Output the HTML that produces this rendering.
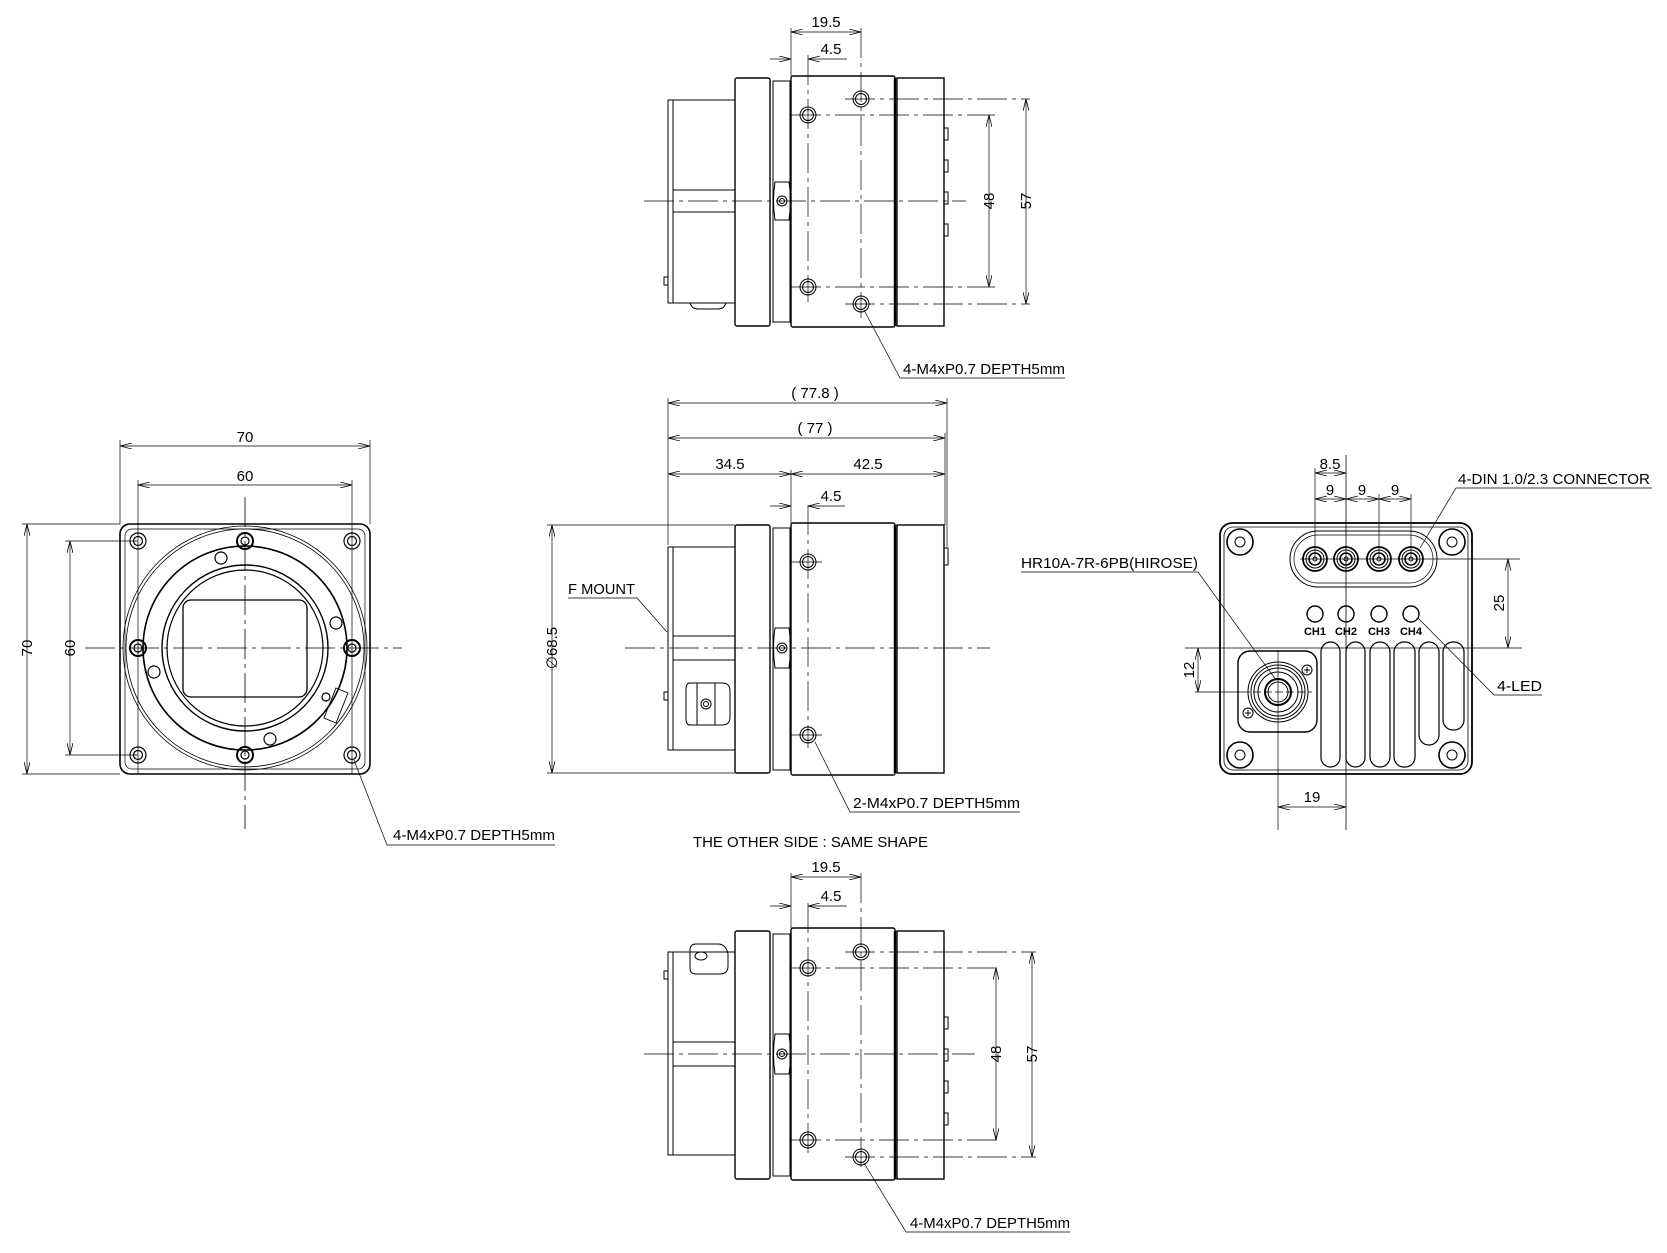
<!DOCTYPE html>
<html><head><meta charset="utf-8"><style>
html,body{margin:0;padding:0;background:#fff}
svg{display:block}
text{font-family:"Liberation Sans",sans-serif;fill:#000}
</style></head><body>
<svg width="1667" height="1253" viewBox="0 0 1667 1253" xmlns="http://www.w3.org/2000/svg">
<defs>
<marker id="a" viewBox="0 0 12 6" refX="12" refY="3" markerWidth="12" markerHeight="6" markerUnits="userSpaceOnUse" orient="auto-start-reverse"><path d="M0,0 L12,3 L0,6" fill="none" stroke="#000" stroke-width="0.8"/></marker>
</defs>
<g fill="none" stroke="#000" stroke-width="1">

<!-- ================= FRONT VIEW ================= -->
<rect x="120" y="524" width="250" height="250" rx="10" stroke-width="1.6"/>
<rect x="125" y="529" width="240" height="240" rx="7" stroke-width="0.7"/>
<circle cx="245" cy="648" r="122" stroke-width="0.8"/>
<circle cx="245" cy="648" r="119" stroke-width="0.8"/>
<circle cx="245" cy="648" r="102" stroke-width="1.6"/>
<circle cx="245" cy="648" r="83" stroke-width="1.4"/>
<circle cx="245" cy="648" r="78" stroke-width="1.2"/>
<rect x="183" y="600" width="124" height="97" rx="8" stroke-width="1.3"/>
<g stroke-width="1.2">
<circle cx="138" cy="541" r="8"/><circle cx="138" cy="541" r="4.5"/>
<circle cx="352" cy="541" r="8"/><circle cx="352" cy="541" r="4.5"/>
<circle cx="138" cy="755" r="8"/><circle cx="138" cy="755" r="4.5"/>
<circle cx="352" cy="755" r="8"/><circle cx="352" cy="755" r="4.5"/>
<circle cx="245" cy="541" r="8" stroke-width="2"/><circle cx="245" cy="541" r="4"/>
<circle cx="245" cy="755" r="8" stroke-width="2"/><circle cx="245" cy="755" r="4"/>
<circle cx="138" cy="648" r="8" stroke-width="2"/><circle cx="138" cy="648" r="4"/>
<circle cx="352" cy="648" r="8" stroke-width="2"/><circle cx="352" cy="648" r="4"/>
<circle cx="221" cy="558" r="6"/><circle cx="336" cy="623" r="6"/><circle cx="154" cy="672" r="6"/><circle cx="270" cy="739" r="6"/>
<circle cx="326" cy="697" r="4"/>
</g>
<path d="M336,688 l12,5 l-12,30 l-12,-5z" stroke-width="0.9"/>
<line x1="85" y1="648" x2="402" y2="648" stroke-width="0.8" stroke-dasharray="30,5,4,5"/>
<line x1="245" y1="497" x2="245" y2="829" stroke-width="0.8" stroke-dasharray="30,5,4,5"/>
<!-- front dims -->
<line x1="120" y1="440" x2="120" y2="524" stroke-width="0.7"/>
<line x1="370" y1="440" x2="370" y2="524" stroke-width="0.7"/>
<line x1="120" y1="446" x2="370" y2="446" stroke-width="0.7" marker-start="url(#a)" marker-end="url(#a)"/>
<line x1="138" y1="480" x2="138" y2="774" stroke-width="0.7"/>
<line x1="352" y1="480" x2="352" y2="774" stroke-width="0.7"/>
<line x1="138" y1="485" x2="352" y2="485" stroke-width="0.7" marker-start="url(#a)" marker-end="url(#a)"/>
<line x1="22" y1="524" x2="120" y2="524" stroke-width="0.7"/>
<line x1="22" y1="774" x2="120" y2="774" stroke-width="0.7"/>
<line x1="27" y1="524" x2="27" y2="774" stroke-width="0.7" marker-start="url(#a)" marker-end="url(#a)"/>
<line x1="65" y1="541" x2="138" y2="541" stroke-width="0.7"/>
<line x1="65" y1="755" x2="138" y2="755" stroke-width="0.7"/>
<line x1="70" y1="541" x2="70" y2="755" stroke-width="0.7" marker-start="url(#a)" marker-end="url(#a)"/>
<polyline points="354,760 387,845 555,845" stroke-width="0.7"/>

<!-- ================= TOP VIEW ================= -->
<g transform="translate(0,0)">
<rect x="668" y="100" width="5" height="203"/>
<rect x="673" y="100" width="62" height="203"/>
<line x1="673" y1="190" x2="735" y2="190"/><line x1="673" y1="212" x2="735" y2="212"/>
<rect x="735" y="78" width="35" height="248" rx="2" stroke-width="1.4"/>
<rect x="773" y="81" width="17" height="241"/>
<path d="M775,182 q-3,19 0,38 h14 q3,-19 0,-38z"/><circle cx="782" cy="201" r="5"/><circle cx="782" cy="201" r="2.5"/>
<rect x="791" y="76" width="104" height="251" rx="2" stroke-width="1.4"/>
<rect x="897" y="78" width="47" height="248" stroke-width="1.4"/>
<line x1="895" y1="78" x2="895" y2="326" stroke-width="2.5"/>
<rect x="944" y="128" width="4" height="12"/><rect x="944" y="160" width="4" height="12"/><rect x="944" y="192" width="4" height="12"/><rect x="944" y="224" width="4" height="12"/>
<rect x="664" y="277" width="4" height="8"/>
<path d="M690,303 q2,6 8,6 h20 q6,0 8,-6"/>
<circle cx="808" cy="115" r="8"/><circle cx="808" cy="115" r="5.5"/>
<circle cx="808" cy="287" r="8"/><circle cx="808" cy="287" r="5.5"/>
<circle cx="861" cy="99" r="8"/><circle cx="861" cy="99" r="5.5"/>
<circle cx="861" cy="304" r="8"/><circle cx="861" cy="304" r="5.5"/>
<line x1="644" y1="201" x2="966" y2="201" stroke-width="0.8" stroke-dasharray="30,5,4,5"/>
<line x1="808" y1="55" x2="808" y2="302" stroke-width="0.7" stroke-dasharray="30,5,4,5"/>
<line x1="861" y1="28" x2="861" y2="318" stroke-width="0.7" stroke-dasharray="30,5,4,5"/>
<line x1="791" y1="28" x2="791" y2="76" stroke-width="0.7"/>
<line x1="791" y1="32" x2="861" y2="32" stroke-width="0.7" marker-start="url(#a)" marker-end="url(#a)"/>
<line x1="770" y1="59" x2="791" y2="59" stroke-width="0.7" marker-end="url(#a)"/>
<line x1="847" y1="59" x2="808" y2="59" stroke-width="0.7" marker-end="url(#a)"/>
<line x1="791" y1="115" x2="995" y2="115" stroke-width="0.7" stroke-dasharray="30,5,4,5"/>
<line x1="791" y1="287" x2="995" y2="287" stroke-width="0.7" stroke-dasharray="30,5,4,5"/>
<line x1="845" y1="99" x2="1030" y2="99" stroke-width="0.7" stroke-dasharray="30,5,4,5"/>
<line x1="845" y1="304" x2="1030" y2="304" stroke-width="0.7" stroke-dasharray="30,5,4,5"/>
<line x1="989" y1="115" x2="989" y2="287" stroke-width="0.7" marker-start="url(#a)" marker-end="url(#a)"/>
<line x1="1026" y1="99" x2="1026" y2="304" stroke-width="0.7" marker-start="url(#a)" marker-end="url(#a)"/>
<polyline points="864,310 900,378 1065,378" stroke-width="0.7"/>
</g>

<!-- ================= MIDDLE SIDE VIEW ================= -->
<rect x="668" y="547" width="5" height="203"/>
<rect x="673" y="547" width="62" height="203"/>
<line x1="673" y1="636" x2="735" y2="636"/><line x1="673" y1="660" x2="735" y2="660"/>
<rect x="664" y="692" width="4" height="8"/>
<path d="M690,683 h32 q8,0 8,8 v26 q0,8 -8,8 h-32 q-4,0 -4,-6 v-30 q0,-6 4,-6z"/>
<line x1="697" y1="683" x2="697" y2="725"/><line x1="715" y1="683" x2="715" y2="725"/>
<circle cx="706" cy="704" r="5"/><circle cx="706" cy="704" r="2.5"/>
<rect x="735" y="525" width="35" height="248" rx="2" stroke-width="1.4"/>
<rect x="773" y="528" width="17" height="242"/>
<path d="M775,628 q-3,20 0,40 h14 q3,-20 0,-40z"/><circle cx="782" cy="648" r="5"/><circle cx="782" cy="648" r="2.5"/>
<rect x="791" y="523" width="104" height="252" rx="2" stroke-width="1.4"/>
<rect x="897" y="525" width="47" height="248" stroke-width="1.4"/>
<line x1="895" y1="525" x2="895" y2="773" stroke-width="2.5"/>
<rect x="944" y="548" width="4" height="17"/>
<circle cx="808" cy="562" r="8"/><circle cx="808" cy="562" r="5.5"/>
<circle cx="808" cy="735" r="8"/><circle cx="808" cy="735" r="5.5"/>
<line x1="625" y1="648" x2="990" y2="648" stroke-width="0.8" stroke-dasharray="30,5,4,5"/>
<line x1="808" y1="505" x2="808" y2="748" stroke-width="0.7" stroke-dasharray="30,5,4,5"/>
<line x1="791" y1="562" x2="822" y2="562" stroke-width="0.7"/><line x1="791" y1="735" x2="822" y2="735" stroke-width="0.7"/>
<line x1="668" y1="398" x2="668" y2="545" stroke-width="0.7"/>
<line x1="947" y1="398" x2="947" y2="547" stroke-width="0.7"/>
<line x1="945" y1="433" x2="945" y2="525" stroke-width="0.7"/>
<line x1="791" y1="470" x2="791" y2="523" stroke-width="0.7"/>
<line x1="668" y1="403" x2="947" y2="403" stroke-width="0.7" marker-start="url(#a)" marker-end="url(#a)"/>
<line x1="668" y1="438" x2="945" y2="438" stroke-width="0.7" marker-start="url(#a)" marker-end="url(#a)"/>
<line x1="668" y1="474" x2="791" y2="474" stroke-width="0.7" marker-start="url(#a)" marker-end="url(#a)"/>
<line x1="791" y1="474" x2="945" y2="474" stroke-width="0.7" marker-start="url(#a)" marker-end="url(#a)"/>
<line x1="770" y1="506" x2="791" y2="506" stroke-width="0.7" marker-end="url(#a)"/>
<line x1="845" y1="506" x2="808" y2="506" stroke-width="0.7" marker-end="url(#a)"/>
<line x1="547" y1="525" x2="735" y2="525" stroke-width="0.7"/>
<line x1="547" y1="773" x2="735" y2="773" stroke-width="0.7"/>
<line x1="552" y1="525" x2="552" y2="773" stroke-width="0.7" marker-start="url(#a)" marker-end="url(#a)"/>
<polyline points="568,598 637,598 667,632" stroke-width="0.7"/>
<polyline points="815,742 850,812 1020,812" stroke-width="0.7"/>

<!-- ================= BOTTOM VIEW ================= -->
<rect x="668" y="952" width="5" height="203"/>
<rect x="673" y="952" width="62" height="203"/>
<line x1="673" y1="1042" x2="735" y2="1042"/><line x1="673" y1="1066" x2="735" y2="1066"/>
<rect x="664" y="971" width="4" height="8"/>
<path d="M690,950 q0,-6 6,-6 h22 q8,0 10,10 v12 q0,8 -8,8 h-24 q-6,0 -6,-6z"/>
<ellipse cx="701" cy="956" rx="6" ry="4"/>
<rect x="735" y="931" width="35" height="248" rx="2" stroke-width="1.4"/>
<rect x="773" y="934" width="17" height="242"/>
<path d="M775,1034 q-3,20 0,40 h14 q3,-20 0,-40z"/><circle cx="782" cy="1054" r="5"/><circle cx="782" cy="1054" r="2.5"/>
<rect x="791" y="928" width="104" height="252" rx="2" stroke-width="1.4"/>
<rect x="897" y="931" width="47" height="248" stroke-width="1.4"/>
<line x1="895" y1="931" x2="895" y2="1179" stroke-width="2.5"/>
<rect x="944" y="1017" width="4" height="12"/><rect x="944" y="1049" width="4" height="12"/><rect x="944" y="1081" width="4" height="12"/><rect x="944" y="1113" width="4" height="12"/>
<circle cx="808" cy="968" r="8"/><circle cx="808" cy="968" r="5.5"/>
<circle cx="808" cy="1140" r="8"/><circle cx="808" cy="1140" r="5.5"/>
<circle cx="861" cy="952" r="8"/><circle cx="861" cy="952" r="5.5"/>
<circle cx="861" cy="1157" r="8"/><circle cx="861" cy="1157" r="5.5"/>
<line x1="644" y1="1054" x2="975" y2="1054" stroke-width="0.8" stroke-dasharray="30,5,4,5"/>
<line x1="808" y1="903" x2="808" y2="1155" stroke-width="0.7" stroke-dasharray="30,5,4,5"/>
<line x1="861" y1="873" x2="861" y2="1172" stroke-width="0.7" stroke-dasharray="30,5,4,5"/>
<line x1="791" y1="873" x2="791" y2="928" stroke-width="0.7"/>
<line x1="791" y1="877" x2="861" y2="877" stroke-width="0.7" marker-start="url(#a)" marker-end="url(#a)"/>
<line x1="770" y1="906" x2="791" y2="906" stroke-width="0.7" marker-end="url(#a)"/>
<line x1="847" y1="906" x2="808" y2="906" stroke-width="0.7" marker-end="url(#a)"/>
<line x1="791" y1="968" x2="1000" y2="968" stroke-width="0.7" stroke-dasharray="30,5,4,5"/>
<line x1="791" y1="1140" x2="1000" y2="1140" stroke-width="0.7" stroke-dasharray="30,5,4,5"/>
<line x1="845" y1="952" x2="1036" y2="952" stroke-width="0.7" stroke-dasharray="30,5,4,5"/>
<line x1="845" y1="1157" x2="1036" y2="1157" stroke-width="0.7" stroke-dasharray="30,5,4,5"/>
<line x1="996" y1="968" x2="996" y2="1140" stroke-width="0.7" marker-start="url(#a)" marker-end="url(#a)"/>
<line x1="1032" y1="952" x2="1032" y2="1157" stroke-width="0.7" marker-start="url(#a)" marker-end="url(#a)"/>
<polyline points="864,1163 906,1232 1070,1232" stroke-width="0.7"/>

<!-- ================= BACK VIEW ================= -->
<rect x="1220" y="523" width="252" height="251" rx="12" stroke-width="1.8"/>
<rect x="1224" y="527" width="244" height="243" rx="9" stroke-width="0.8"/>
<g stroke-width="1.6">
<circle cx="1240" cy="542" r="13"/><circle cx="1452" cy="542" r="13"/><circle cx="1240" cy="755" r="13"/><circle cx="1452" cy="755" r="13"/>
</g>
<g stroke-width="1">
<circle cx="1240" cy="542" r="5"/><circle cx="1452" cy="542" r="5"/><circle cx="1240" cy="755" r="5"/><circle cx="1452" cy="755" r="5"/>
</g>
<rect x="1290" y="531" width="147" height="56" rx="28"/>
<rect x="1294" y="535" width="139" height="48" rx="24" stroke-width="0.7"/>
<g>
<circle cx="1315" cy="559" r="12" stroke-width="1.8"/><circle cx="1315" cy="559" r="9"/><circle cx="1315" cy="559" r="6" stroke-width="1.6"/><circle cx="1315" cy="559" r="2"/>
<circle cx="1346" cy="559" r="12" stroke-width="1.8"/><circle cx="1346" cy="559" r="9"/><circle cx="1346" cy="559" r="6" stroke-width="1.6"/><circle cx="1346" cy="559" r="2"/>
<circle cx="1379" cy="559" r="12" stroke-width="1.8"/><circle cx="1379" cy="559" r="9"/><circle cx="1379" cy="559" r="6" stroke-width="1.6"/><circle cx="1379" cy="559" r="2"/>
<circle cx="1411" cy="559" r="12" stroke-width="1.8"/><circle cx="1411" cy="559" r="9"/><circle cx="1411" cy="559" r="6" stroke-width="1.6"/><circle cx="1411" cy="559" r="2"/>
</g>
<line x1="1300" y1="559" x2="1520" y2="559" stroke-width="0.7"/>
<g stroke-width="1.4">
<circle cx="1315" cy="614" r="8"/><circle cx="1346" cy="614" r="8"/><circle cx="1379" cy="614" r="8"/><circle cx="1411" cy="614" r="8"/>
</g>
<g stroke-width="1.2">
<rect x="1321" y="642" width="19" height="125" rx="9.5"/><rect x="1346" y="642" width="19" height="125" rx="9.5"/>
<rect x="1370" y="642" width="20" height="125" rx="10"/><rect x="1394" y="642" width="21" height="125" rx="10"/>
<rect x="1419" y="642" width="20" height="103" rx="10"/><rect x="1443" y="642" width="21" height="88" rx="10"/>
</g>
<rect x="1238" y="651" width="79" height="81" rx="12" stroke-width="1.4"/>
<circle cx="1278" cy="692" r="30"/><circle cx="1278" cy="692" r="27"/><circle cx="1278" cy="692" r="24"/><circle cx="1278" cy="692" r="20"/>
<circle cx="1278" cy="692" r="13" stroke-width="2"/><circle cx="1278" cy="692" r="10"/>
<circle cx="1307" cy="670" r="5"/><circle cx="1248" cy="713" r="5"/>
<path d="M1304,670h6M1307,667v6M1245,713h6M1248,710v6"/>
<line x1="1242" y1="692" x2="1312" y2="692" stroke-width="0.7" stroke-dasharray="8,3"/>
<line x1="1278" y1="650" x2="1278" y2="830" stroke-width="0.7"/>
<line x1="1346" y1="455" x2="1346" y2="830" stroke-width="0.8"/>
<line x1="1315" y1="468" x2="1315" y2="559" stroke-width="0.7"/>
<line x1="1379" y1="494" x2="1379" y2="559" stroke-width="0.7"/>
<line x1="1411" y1="494" x2="1411" y2="559" stroke-width="0.7"/>
<line x1="1315" y1="473" x2="1346" y2="473" stroke-width="0.7" marker-start="url(#a)" marker-end="url(#a)"/>
<line x1="1315" y1="499" x2="1346" y2="499" stroke-width="0.7" marker-start="url(#a)" marker-end="url(#a)"/>
<line x1="1346" y1="499" x2="1379" y2="499" stroke-width="0.7" marker-start="url(#a)" marker-end="url(#a)"/>
<line x1="1379" y1="499" x2="1411" y2="499" stroke-width="0.7" marker-start="url(#a)" marker-end="url(#a)"/>
<line x1="1185" y1="648" x2="1522" y2="648" stroke-width="0.8"/>
<line x1="1195" y1="692" x2="1242" y2="692" stroke-width="0.7"/>
<line x1="1508" y1="559" x2="1508" y2="648" stroke-width="0.7" marker-start="url(#a)" marker-end="url(#a)"/>
<line x1="1198" y1="648" x2="1198" y2="692" stroke-width="0.7" marker-start="url(#a)" marker-end="url(#a)"/>
<line x1="1278" y1="807" x2="1346" y2="807" stroke-width="0.7" marker-start="url(#a)" marker-end="url(#a)"/>
<polyline points="1652,488 1456,488 1420,548" stroke-width="0.7"/>
<polyline points="1021,572 1198,572 1276,680" stroke-width="0.7"/>
<polyline points="1542,695 1494,695 1418,618" stroke-width="0.7"/>
</g>

<!-- ================= TEXT ================= -->
<g font-size="15" text-anchor="middle">
<text x="245" y="442">70</text>
<text x="245" y="481">60</text>
<text transform="translate(32,648) rotate(-90)" >70</text>
<text transform="translate(75,648) rotate(-90)">60</text>
<text transform="translate(557,648) rotate(-90)">∅68.5</text>
<text x="826" y="27">19.5</text>
<text x="831" y="54">4.5</text>
<text transform="translate(994,201) rotate(-90)">48</text>
<text transform="translate(1031,201) rotate(-90)">57</text>
<text x="815" y="398">(  77.8  )</text>
<text x="815" y="433">(  77  )</text>
<text x="730" y="469">34.5</text>
<text x="868" y="469">42.5</text>
<text x="831" y="501">4.5</text>
<text x="826" y="872">19.5</text>
<text x="831" y="901">4.5</text>
<text transform="translate(1001,1054) rotate(-90)">48</text>
<text transform="translate(1037,1054) rotate(-90)">57</text>
<text x="1330" y="469">8.5</text>
<text x="1330" y="495">9</text>
<text x="1362" y="495">9</text>
<text x="1395" y="495">9</text>
<text transform="translate(1504,603) rotate(-90)">25</text>
<text transform="translate(1194,670) rotate(-90)">12</text>
<text x="1312" y="802">19</text>
</g>
<g font-size="15">
<text x="393" y="840" textLength="162" lengthAdjust="spacingAndGlyphs">4-M4xP0.7 DEPTH5mm</text>
<text x="903" y="374" textLength="162" lengthAdjust="spacingAndGlyphs">4-M4xP0.7 DEPTH5mm</text>
<text x="853" y="808" textLength="167" lengthAdjust="spacingAndGlyphs">2-M4xP0.7 DEPTH5mm</text>
<text x="910" y="1228" textLength="160" lengthAdjust="spacingAndGlyphs">4-M4xP0.7 DEPTH5mm</text>
<text x="568" y="594" textLength="67" lengthAdjust="spacingAndGlyphs">F MOUNT</text>
<text x="693" y="847" textLength="235" lengthAdjust="spacingAndGlyphs">THE OTHER SIDE : SAME SHAPE</text>
<text x="1458" y="484" textLength="192" lengthAdjust="spacingAndGlyphs">4-DIN 1.0/2.3 CONNECTOR</text>
<text x="1021" y="568" textLength="177" lengthAdjust="spacingAndGlyphs">HR10A-7R-6PB(HIROSE)</text>
<text x="1497" y="691" textLength="45" lengthAdjust="spacingAndGlyphs">4-LED</text>
</g>
<g font-size="11" font-weight="bold" text-anchor="middle">
<text x="1315" y="635">CH1</text><text x="1346" y="635">CH2</text><text x="1379" y="635">CH3</text><text x="1411" y="635">CH4</text>
</g>
</svg>
</body></html>
